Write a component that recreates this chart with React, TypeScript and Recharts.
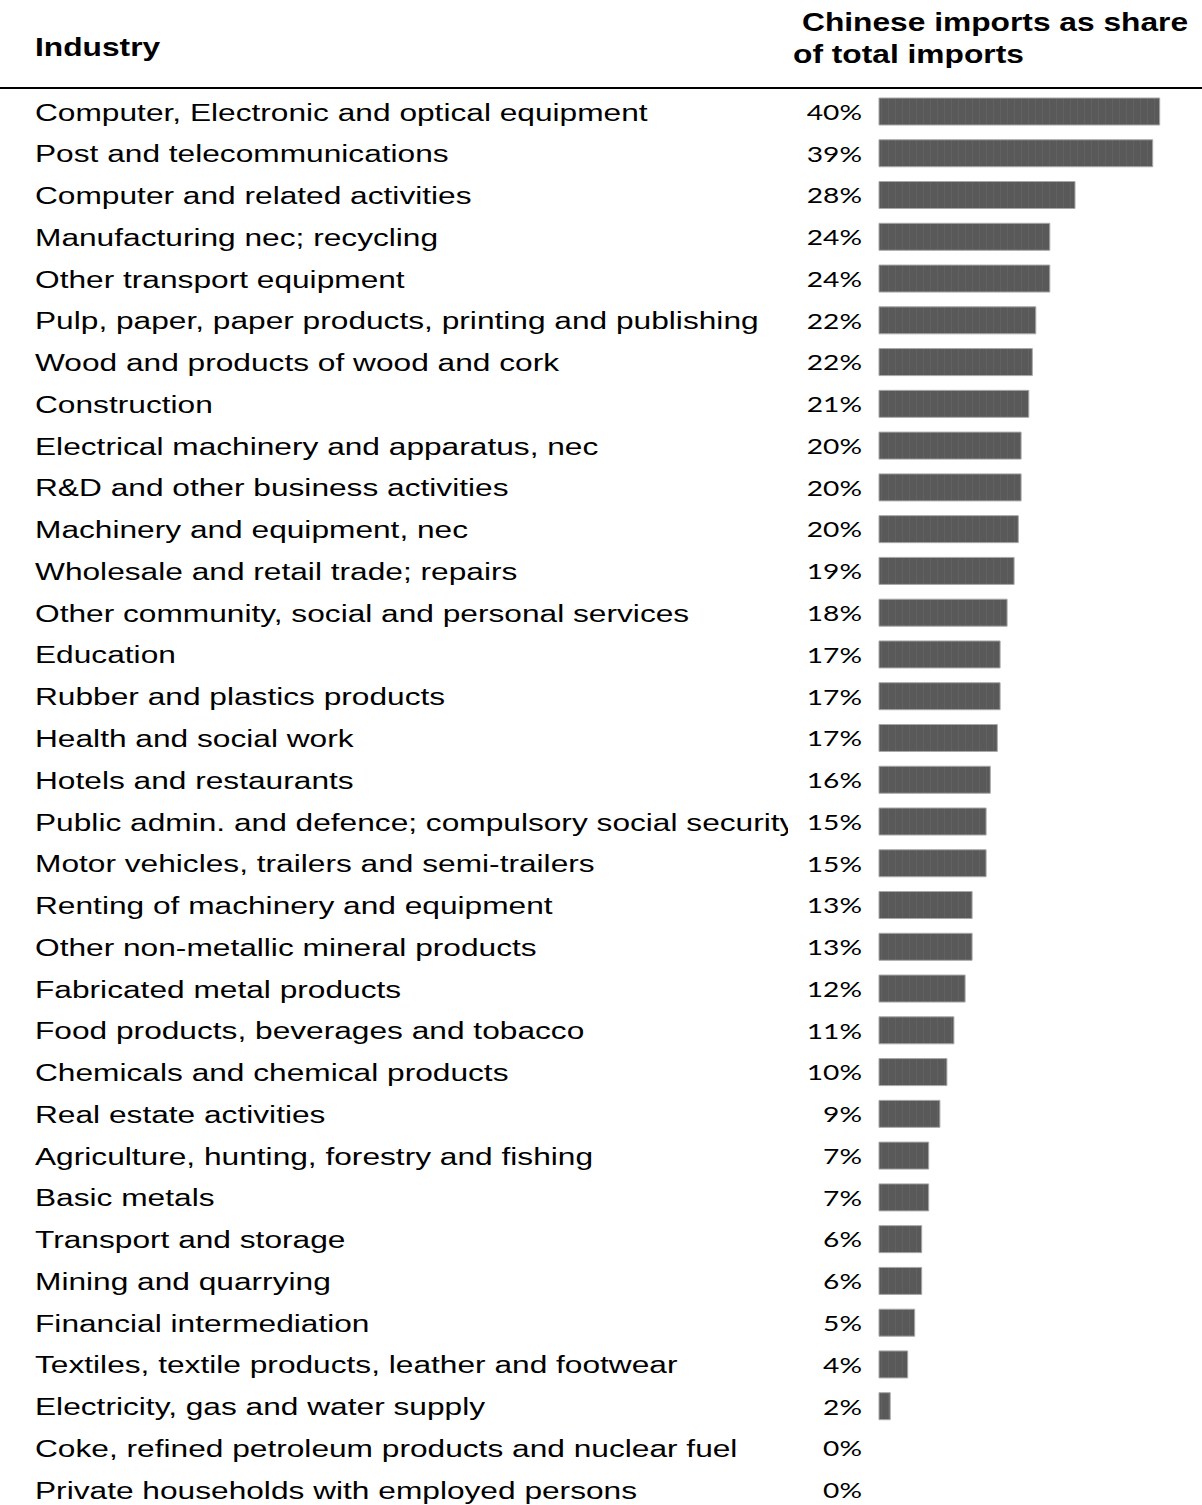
import React from 'react'
import { BarChart, Bar, XAxis, YAxis } from 'recharts'

const industrias: string[] = [
  'Computer, Electronic and optical equipment',
  'Post and telecommunications',
  'Computer and related activities',
  'Manufacturing nec; recycling',
  'Other transport equipment',
  'Pulp, paper, paper products, printing and publishing',
  'Wood and products of wood and cork',
  'Construction',
  'Electrical machinery and apparatus, nec',
  'R&D and other business activities',
  'Machinery and equipment, nec',
  'Wholesale and retail trade; repairs',
  'Other community, social and personal services',
  'Education',
  'Rubber and plastics products',
  'Health and social work',
  'Hotels and restaurants',
  'Public admin. and defence; compulsory social security',
  'Motor vehicles, trailers and semi-trailers',
  'Renting of machinery and equipment',
  'Other non-metallic mineral products',
  'Fabricated metal products',
  'Food products, beverages and tobacco',
  'Chemicals and chemical products',
  'Real estate activities',
  'Agriculture, hunting, forestry and fishing',
  'Basic metals',
  'Transport and storage',
  'Mining and quarrying',
  'Financial intermediation',
  'Textiles, textile products, leather and footwear',
  'Electricity, gas and water supply',
  'Coke, refined petroleum products and nuclear fuel',
  'Private households with employed persons',
]

// porcentaje de importaciones chinas sobre el total
const cuotaChina: number[] = [
  40.1, 39.1, 28.0, 24.4, 24.4, 22.4, 21.9, 21.4, 20.3, 20.3, 19.9, 19.3,
  18.3, 17.3, 17.3, 16.9, 15.9, 15.3, 15.3, 13.3, 13.3, 12.3, 10.7, 9.7,
  8.7, 7.1, 7.1, 6.1, 6.1, 5.1, 4.1, 1.6, 0, 0,
]

const datos = industrias.map((nombre, i) => ({ nombre, cuota: cuotaChina[i] }))

const FUENTE = '"Liberation Sans", Arial, sans-serif'

// nombre de la industria + porcentaje (también para las barras en 0)
function TickIndustria({ y, payload, index }: any) {
  const v = cuotaChina[index] ?? 0
  return (
    <g>
      <g clipPath="url(#recorteNombres)">
        <text
          transform={`translate(35, ${y}) scale(1.32, 1)`}
          dy="0.36em"
          textAnchor="start"
          fontFamily={FUENTE}
          fontSize={24}
          fill="#000"
        >
          {payload.value}
        </text>
      </g>
      <text
        transform={`translate(862, ${y}) scale(1.28, 1)`}
        dy="0.36em"
        textAnchor="end"
        fontFamily='Lato, "Open Sans", sans-serif'
        fontSize={22}
        fill="#000"
      >
        {`${Math.round(v)}%`}
      </text>
    </g>
  )
}

const estiloCabecera: React.CSSProperties = {
  position: 'absolute',
  fontFamily: FUENTE,
  fontWeight: 'bold',
  fontSize: 26,
  lineHeight: '34px',
  whiteSpace: 'nowrap',
  transform: 'scaleX(1.22)',
  transformOrigin: 'left center',
}

export default function App() {
  return (
    <div style={{ position: 'absolute', left: 0, top: 0, width: 1202, height: 1515, background: '#fff' }}>
      {/* Encabezado */}
      <div style={{ ...estiloCabecera, left: 35, top: 30 }}>Industry</div>
      <div style={{ ...estiloCabecera, left: 802, top: 5 }}>Chinese imports as share</div>
      <div style={{ ...estiloCabecera, left: 793, top: 37 }}>of total imports</div>
      <div
        style={{
          position: 'absolute',
          left: 0,
          top: 87,
          width: 1202,
          height: 2,
          background: '#000',
        }}
      />
      <BarChart
        width={1202}
        height={1515}
        data={datos}
        layout="vertical"
        margin={{ top: 91, right: 8, bottom: 4, left: 0 }}
        style={{ position: 'absolute', left: 0, top: 0 }}
      >
        <defs>
          <pattern id="rayado" width="7" height="10" patternUnits="userSpaceOnUse">
            <rect width="7" height="10" fill="#595959" />
            <rect x="6" width="1" height="10" fill="#616161" />
          </pattern>
          <clipPath id="recorteNombres">
            <rect x={0} y={0} width={788} height={1515} />
          </clipPath>
        </defs>
        <XAxis type="number" domain={[0, 45]} hide />
        <YAxis
          type="category"
          dataKey="nombre"
          width={879}
          axisLine={false}
          tickLine={false}
          interval={0}
          tick={<TickIndustria />}
        />
        <Bar
          dataKey="cuota"
          barSize={27}
          fill="url(#rayado)"
          stroke="#a8a8a8"
          strokeWidth={1}
          isAnimationActive={false}
        />
      </BarChart>
    </div>
  )
}
